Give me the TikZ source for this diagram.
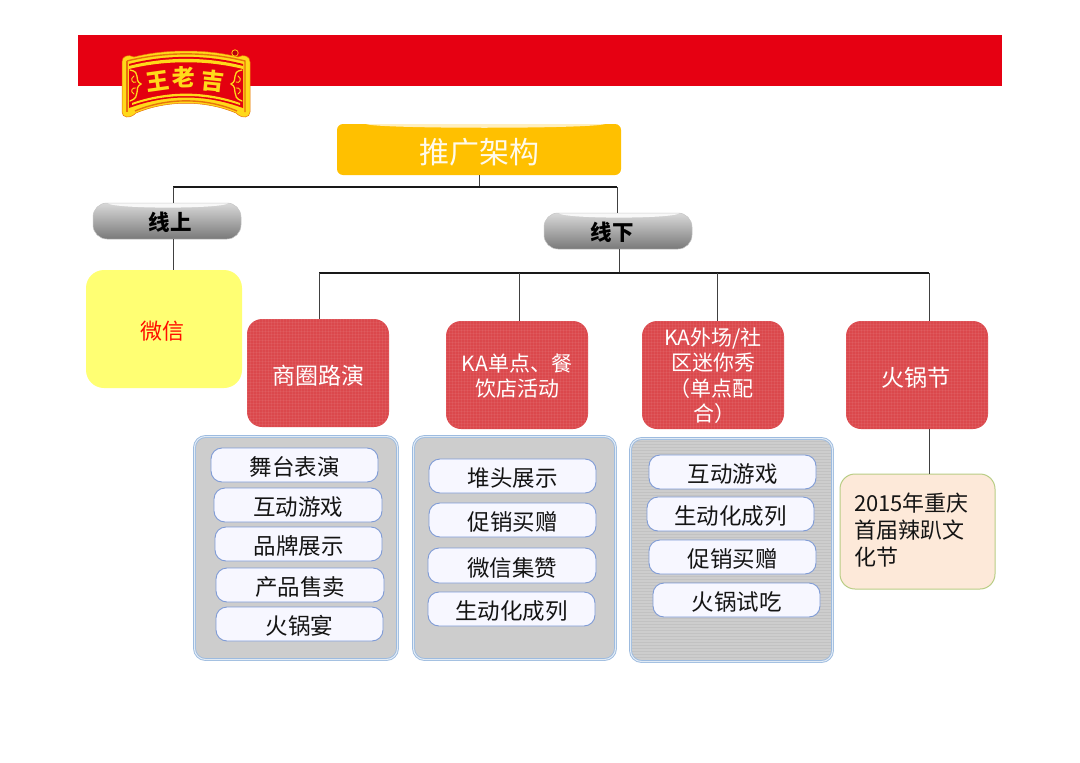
\documentclass[tikz,border=0pt]{standalone}
\usepackage{fontspec}
\setmainfont{Noto Sans CJK SC}
\usetikzlibrary{calc}
\definecolor{hdr}{HTML}{E60012}
\definecolor{gold}{HTML}{FFC000}
\definecolor{redbox}{HTML}{DB484C}
\definecolor{panelg}{HTML}{CDCDCD}
\definecolor{panelb}{HTML}{9DBBDF}
\definecolor{itemb}{HTML}{7F9BD6}
\definecolor{peach}{HTML}{FDE9D9}
\definecolor{peachb}{HTML}{B9CD85}
\definecolor{yel}{HTML}{FFFF73}
\definecolor{logoy}{HTML}{FFD91A}
\definecolor{logor}{HTML}{E3000F}
\definecolor{logoo}{HTML}{E8720C}
\definecolor{txt}{HTML}{141414}
\tikzset{
 box/.style={inner sep=0pt,outer sep=0pt,align=center,text=white},
 titlebox/.style={box,fill=gold,rounded corners=6pt,font=\fontsize{30}{33}\selectfont,text=white!92!gold},
 pill/.style={box,rounded corners=14pt,top color=gray!30,bottom color=gray!95!black,draw=gray!45,line width=.5pt,font=\bfseries\fontsize{21.5}{24}\selectfont,text=black},
 yelbox/.style={box,fill=yel,rounded corners=18pt,font=\fontsize{22}{24}\selectfont,text=red!90!orange},
 redb/.style={box,fill=redbox,rounded corners=15pt,font=\fontsize{23}{25}\selectfont,
  path picture={\foreach \q in {0,3,...,144} {
    \draw[white,opacity=.06,line width=.5pt] ([xshift=\q pt]path picture bounding box.north west) -- ([xshift=\q pt]path picture bounding box.south west);
    \draw[white,opacity=.06,line width=.5pt] ([yshift=-\q pt]path picture bounding box.north west) -- ([yshift=-\q pt]path picture bounding box.north east);}}},
 redsmall/.style={redb,font=\fontsize{21}{25}\selectfont},
 panelbox/.style={box,fill=panelg,draw=panelb,line width=.9pt,double=white!70!panelb,double distance=1pt,rounded corners=11pt},
 stripes/.style={path picture={\foreach \q in {0,3,...,228} {
    \draw[black!24,line width=.5pt] ([yshift=-\q pt]path picture bounding box.north west) -- ([yshift=-\q pt]path picture bounding box.north east);}}},
 item/.style={box,fill=white!97!blue,draw=itemb,line width=.9pt,rounded corners=11pt,font=\fontsize{22.5}{26}\selectfont,text=txt},
 peachbox/.style={box,fill=peach,draw=peachb,line width=1pt,rounded corners=15pt,font=\fontsize{22}{27.3}\selectfont,text=txt,align=left},
 conn/.style={line width=1.4pt,draw=black!90},
 thin/.style={line width=1pt,draw=black!75},
 logotxt/.style={inner sep=0pt,text=logoy,font=\bfseries\fontsize{23}{24}\selectfont},
 hilite/.style={fill=white,opacity=.85},
 scroll/.style={draw=logoy,line width=1.3pt,line cap=round},
}
\newcommand{\bx}[8][-2pt]{% raise, style, x0 y0 x1 y1, name, text
  \node[#2,minimum width=(#5-#3)*1pt,minimum height=(#6-#4)*1pt] (#7) at ({(#3+#5)/2},{(#4+#6)/2}) {\raisebox{#1}[\height][\depth]{#8}};}
\newcommand{\lines}[1]{\begin{tabular}{@{}c@{}}#1\end{tabular}}
\begin{document}
\begin{tikzpicture}[x=1pt,y=-1pt]
\useasboundingbox (0,0) rectangle (1080,763);
\fill[white] (0,0) rectangle (1080,763);
\fill[hdr] (78,35) rectangle (1002,86);
% logo
\path[fill=logoy,draw=logoo,line width=.5pt]
 (122,62) .. controls (122,56) and (128,54) .. (134,57) .. controls (165,49) and (207,49) .. (238,57)
 .. controls (244,54) and (250,56) .. (250,62) -- (250,112) .. controls (250,118) and (242,119) .. (236,113)
 .. controls (205,100) and (167,100) .. (136,113) .. controls (130,119) and (122,118) .. (122,112) -- cycle;
\draw[logoo,line width=1.4pt] (127,61) .. controls (165,51.5) and (207,51.5) .. (245,61) -- (245,112);
\draw[logoo,line width=1.4pt] (127,61) -- (127,112);
\draw[logoo,line width=1.4pt] (135,111) .. controls (167,97.5) and (205,97.5) .. (237,111);
\path[fill=logor] (129,64) .. controls (165,54.5) and (207,54.5) .. (243,64) -- (243,108)
 .. controls (205,94) and (167,94) .. (129,108) -- cycle;
\path[fill=logoy] (129,66) .. controls (165,56.5) and (207,56.5) .. (243,66) -- (243,69)
 .. controls (207,60) and (165,60) .. (129,69) -- cycle;
\path[fill=logoy] (132,103) .. controls (167,90.5) and (205,90.5) .. (240,103) -- (240,105)
 .. controls (205,93) and (167,93) .. (132,105) -- cycle;
\begin{scope}
\draw[scroll] (130,70) .. controls (142,72) and (133,80) .. (141,84) .. controls (133,88) and (142,97) .. (130,101);
\draw[scroll,line width=.9pt] (134,76) .. controls (129,79) and (133,84) .. (136,82);
\draw[scroll,line width=.9pt] (134,94) .. controls (129,91) and (133,87) .. (136,88);
\draw[scroll] (242,70) .. controls (230,72) and (239,80) .. (231,84) .. controls (239,88) and (230,97) .. (242,101);
\draw[scroll,line width=.9pt] (238,76) .. controls (243,79) and (239,84) .. (236,82);
\draw[scroll,line width=.9pt] (238,94) .. controls (243,91) and (239,87) .. (236,88);
\end{scope}
\fill[logor!80!black] (235,53) circle (2.6pt);
\draw[logoy!70!orange,line width=.8pt] (235,53) circle (3.2pt);
\node[logotxt,rotate=8] (l1) at (158,81) {王};
\node[logotxt,rotate=2] (l2) at (184,77) {老};
\node[logotxt,rotate=-6] (l3) at (213,81) {吉};
% boxes
\bx[-2.5pt]{titlebox}{337}{124}{621}{175}{title}{推广架构}
\fill[white!75!gold] (366,124) .. controls (376,129) and (592,129) .. (605,124) -- cycle;
\bx[-1pt]{pill}{93}{203}{241}{239}{on}{\hspace*{6pt}线上}
\fill[hilite] (108,203.4) .. controls (116,209) and (220,209) .. (228,203.4) -- cycle;
\bx[-1pt]{pill}{544}{213}{692}{249}{off}{\hspace*{-12pt}线下}
\fill[hilite] (559,213.4) .. controls (567,219) and (671,219) .. (679,213.4) -- cycle;
\bx[-2pt]{yelbox}{86}{270}{242}{388}{wx}{\hspace*{-3pt}微信}
\bx[-3pt]{redb}{247}{319}{389}{427}{c1}{商圈路演}
\bx[-3.5pt]{redsmall}{446}{321}{588}{429}{c2}{\lines{KA单点、餐\\饮店活动}}
\bx[-3.5pt]{redsmall}{642}{321}{784}{429}{c3}{\lines{KA外场/社\\区迷你秀\\\hspace*{-4pt}（单点配\\\hspace*{2pt}合）}}
\bx[-3pt]{redb}{846}{321}{988}{429}{c4}{\hspace*{-2pt}火锅节}
\bx[0pt]{panelbox}{194.5}{436.5}{397.5}{659.5}{p1}{}
\bx[0pt]{panelbox}{413.5}{436.5}{615.5}{659.5}{p2}{}
\bx[0pt]{panelbox,stripes}{630.5}{438.5}{832.5}{661.5}{p3}{}
\bx{item}{211}{448}{378}{482}{a1}{舞台表演}
\bx{item}{214}{488}{382}{522}{a2}{互动游戏}
\bx{item}{215}{527}{382}{561}{a3}{品牌展示}
\bx{item}{216}{568}{384}{602}{a4}{产品售卖}
\bx{item}{216}{607}{383}{641}{a5}{火锅宴}
\bx{item}{429}{459}{596}{493}{b1}{堆头展示}
\bx{item}{429}{503}{596}{537}{b2}{促销买赠}
\bx{item}{428}{548}{596}{583}{b3}{微信集赞}
\bx{item}{428}{592}{595}{626}{b4}{生动化成列}
\bx{item}{649}{455}{816}{489}{d1}{互动游戏}
\bx{item}{647}{497}{814}{531}{d2}{生动化成列}
\bx{item}{649}{540}{816}{574}{d3}{促销买赠}
\bx{item}{653}{583}{820}{617}{d4}{火锅试吃}
\bx[0pt]{peachbox}{840}{474}{995}{589}{fes}{\begin{minipage}[c][115pt][t]{127pt}\vspace{18.5pt}2015年重庆\\首届辣趴文\\化节\end{minipage}}
% connectors
\coordinate (j0) at (479,187);
\coordinate (jl) at (173,187);
\coordinate (jr) at (617,187);
\coordinate (k0) at (619,273);
\coordinate (k1) at (319,273);
\coordinate (k2) at (519,273);
\coordinate (k3) at (717,273);
\coordinate (k4) at (929,273);
\draw[thin] (title.south -| j0) -- (j0);
\draw[conn] (jl) -- (jr);
\draw[thin] (jl) -- (jl |- on.north);
\draw[thin] (jr) -- (jr |- off.north);
\draw[thin] (jl |- on.south) -- (jl |- wx.north);
\draw[thin] (k0 |- off.south) -- (k0);
\draw[conn] (k1) -- (k4);
\draw[thin] (k1) -- (k1 |- c1.north);
\draw[thin] (k2) -- (k2 |- c2.north);
\draw[thin] (k3) -- (k3 |- c3.north);
\draw[thin] (k4) -- (k4 |- c4.north);
\draw[thin] (k4 |- c4.south) -- (k4 |- fes.north);
\end{tikzpicture}
\end{document}
